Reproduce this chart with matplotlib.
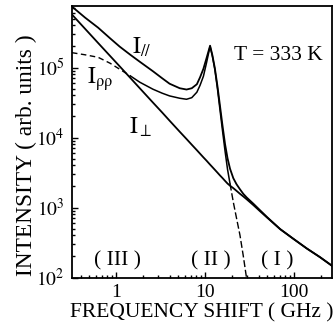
import numpy as np
import matplotlib
matplotlib.use('Agg')
import matplotlib.pyplot as plt
from matplotlib.ticker import FixedLocator, FixedFormatter, LogLocator, NullFormatter

# ---------------- data ----------------
freq = [0.32, 0.45, 0.63, 0.86, 1.1, 1.45, 1.85, 2.6, 3.3, 4.0, 5.2, 6.2,
        7.1, 8.1, 8.8, 9.6, 10.4, 11.4, 12.1, 12.9, 13.8, 14.7, 15.7, 16.8,
        17.9, 19.1, 20.8, 22.6, 24.7, 26.9, 29.4, 35, 41.5, 50, 70, 98, 139,
        196, 267]

i_par = [7.43e5, 5.16e5, 3.71e5, 2.61e5, 1.99e5, 1.52e5, 1.21e5, 8.85e4,
         7.03e4, 5.87e4, 5.06e4, 4.85e4, 5.06e4, 5.77e4, 7.26e4, 9.61e4,
         1.36e5, 2.05e5, 1.50e5, 9.77e4, 5.41e4, 2.89e4, 1.50e4, 8.02e3,
         5.06e3, 3.58e3, 2.62e3, 2.15e3, 1.82e3, 1.57e3, 1.39e3, 1.13e3,
         914, 726, 490, 358, 260, 195, 147]

i_perp = [5.72e5, 3.57e5, 2.24e5, 1.46e5, 1.04e5, 7.10e4, 5.06e4, 3.16e4,
          2.28e4, 1.74e4, 1.21e4, 9.52e3, 7.89e3, 6.59e3, 5.87e3, 5.20e3,
          4.67e3, 4.10e3, 3.78e3, 3.46e3, 3.15e3, 2.88e3, 2.64e3, 2.40e3,
          2.20e3, 2.05e3, 1.89e3, 1.73e3, 1.57e3, 1.44e3, 1.31e3, 1.08e3,
          885, 715, 490, 358, 260, 195, 147]

i_pp = [1.63e5, 1.52e5, 1.40e5, 1.15e5, 9.46e4, 7.59e4, 6.17e4, 4.90e4,
        4.30e4, 3.93e4, 3.64e4, 3.52e4, 3.71e4, 4.44e4, 5.58e4, 7.52e4,
        1.17e5, 2.01e5, 1.45e5, 9.31e4, 4.98e4, 2.54e4, 1.27e4, 6.37e3,
        3.52e3, 2.19e3, 1.19e3, 703, 402, 204, 94.6,
        np.nan, np.nan, np.nan, np.nan, np.nan, np.nan, np.nan, np.nan]

x_ticks = [1, 10, 100]
x_tick_labels = ['1', '10', '100']
y_ticks = [1e2, 1e3, 1e4, 1e5]
y_tick_labels = [r'$10^{2}$', r'$10^{3}$', r'$10^{4}$', r'$10^{5}$']

x_label = 'FREQUENCY SHIFT ( GHz )'
y_label = 'INTENSITY ( arb. units )'
temp_label = 'T = 333 K'
regions = ['( III )', '( II )', '( I )']

# ---------------- style ----------------
plt.rcParams['font.family'] = ['Liberation Serif', 'DejaVu Serif']
plt.rcParams['mathtext.fontset'] = 'stix'

W, H = 334, 332
fig = plt.figure(figsize=(W / 100, H / 100), dpi=100)
L, R, T, B = 71.7, 332.0, 6.0, 277.5
ax = fig.add_axes([L / W, 1 - B / H, (R - L) / W, (B - T) / H])
ax.set_xscale('log')
ax.set_yscale('log')
ax.set_xlim(0.318, 267)
ax.set_ylim(100, 7.57e5)

lw = 1.3
f = np.array(freq)
ipp = np.array(i_pp)
iperp = np.array(i_perp)
ax.plot(f, i_par, color='black', lw=lw)
ax.plot(f, i_perp, color='black', lw=lw)

above = np.where(ipp >= iperp)[0]
a, b = above[0], above[-1]
ax.plot(f[:a + 1], ipp[:a + 1], color='black', lw=1.0, dashes=(4, 2.5))
ax.plot(f[a:b + 1], ipp[a:b + 1], color='black', lw=1.1)
ax.plot(f[b:], ipp[b:], color='black', lw=1.0, dashes=(5, 2))

ax.xaxis.set_major_locator(FixedLocator(x_ticks))
ax.xaxis.set_major_formatter(FixedFormatter(x_tick_labels))
ax.xaxis.set_minor_locator(LogLocator(base=10, subs=np.arange(2, 10)))
ax.xaxis.set_minor_formatter(NullFormatter())
ax.yaxis.set_major_locator(FixedLocator(y_ticks))
ax.yaxis.set_major_formatter(FixedFormatter(y_tick_labels))
ax.yaxis.set_minor_locator(LogLocator(base=10, subs=np.arange(2, 10)))
ax.yaxis.set_minor_formatter(NullFormatter())

ax.tick_params(which='both', direction='in', top=False, right=False,
               colors='black', width=1.0)
ax.tick_params(which='major', length=4.5, labelsize=14, pad=5)
ax.tick_params(which='minor', length=2.5)
for s in ax.spines.values():
    s.set_linewidth(1.3)


def fx(px):
    return (px - L) / (R - L)


def fy(py):
    return (B - py) / (B - T)


ax.set_xlabel(x_label, fontsize=15.5, labelpad=1)
ax.set_ylabel(y_label, fontsize=16.8)
ax.yaxis.set_label_coords(fx(37), fy(155))

ax.text(fx(278), fy(60), temp_label, fontsize=15.5, ha='center',
        va='baseline', transform=ax.transAxes)
ax.text(fx(132), fy(54), r'$\mathrm{I}_{//}$', fontsize=17, ha='left',
        va='baseline', transform=ax.transAxes)
ax.text(fx(87), fy(84), r'$\mathrm{I}_{\mathrm{ρρ}}$', fontsize=17, ha='left',
        va='baseline', transform=ax.transAxes)
ax.text(fx(129), fy(134), r'$\mathrm{I}_{\perp}$', fontsize=17, ha='left',
        va='baseline', transform=ax.transAxes)
for label, cx in zip(regions, [117, 211, 277]):
    ax.text(fx(cx), fy(265), label, fontsize=15.5, ha='center',
            va='baseline', transform=ax.transAxes)

fig.savefig('out.png', dpi=100)
